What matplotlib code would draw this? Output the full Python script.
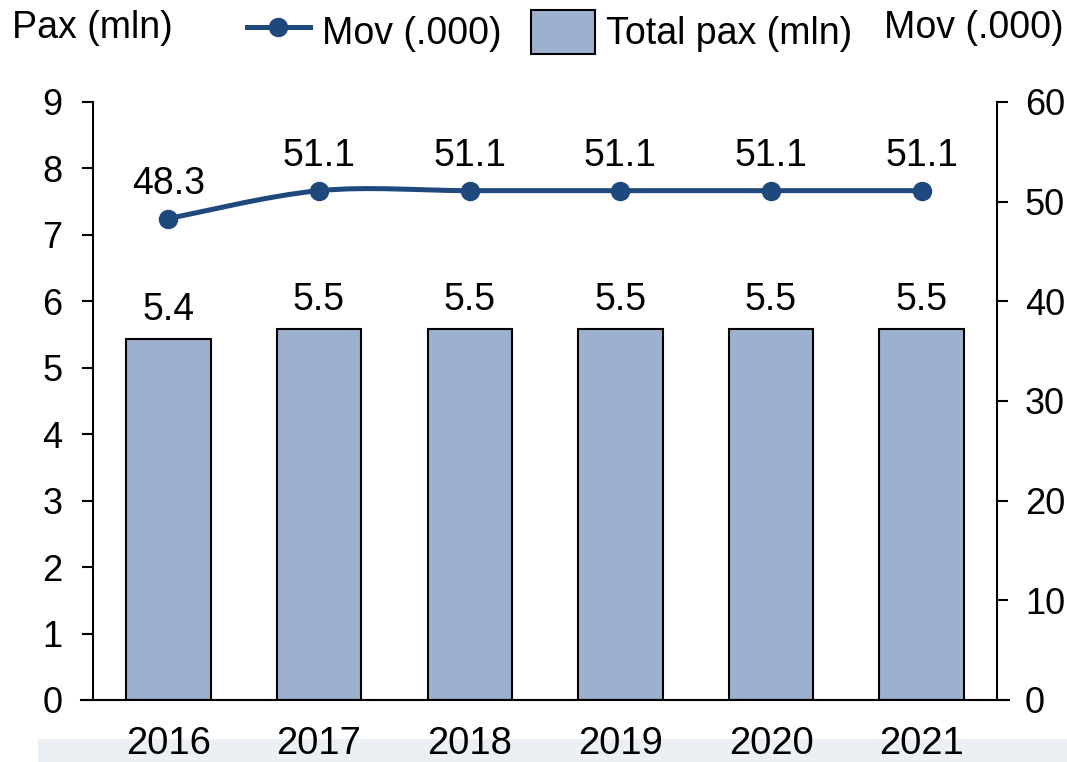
"""
Pax and movements chart, bars for passengers with a smoothed movements line
"""

import matplotlib
matplotlib.use('Agg')
import matplotlib.pyplot as plt
from matplotlib.path import Path
from matplotlib.patches import PathPatch, Rectangle
from matplotlib.lines import Line2D

years = ['2016', '2017', '2018', '2019', '2020', '2021']
pax = [5.43, 5.58, 5.58, 5.58, 5.58, 5.58]
pax_labels = ['5.4', '5.5', '5.5', '5.5', '5.5', '5.5']
mov = [48.3, 51.1, 51.1, 51.1, 51.1, 51.1]

barColor = '#9DB0CD'
lineColor = '#1F497D'

plt.rcParams['font.family'] = ['Liberation Sans', 'DejaVu Sans']
fs = 26
fsLab = 27

fig = plt.figure(figsize=(10.67, 7.62), dpi=100)
ax = fig.add_axes([0.0872, 0.0814, 0.8472, 0.7848])
ax2 = ax.twinx()

# bottom band behind the year labels
fig.patches.append(Rectangle((0.0356, 0), 1 - 0.0356, 0.030,
                             transform=fig.transFigure, color='#ECF0F4',
                             zorder=-5))

x = list(range(len(years)))
ax.bar(x, pax, width=0.56, color=barColor, edgecolor='black', linewidth=1.5,
       zorder=2)
for i in x:
    ax.annotate(pax_labels[i], (i, pax[i]), xytext=(0, 8),
                textcoords='offset points', ha='center', va='bottom',
                fontsize=fsLab)

ax.set_xlim(-0.5, len(years) - 0.5)
ax.set_ylim(0, 9)
ax.set_yticks(range(0, 10))
ax.set_xticks(x)
ax.set_xticklabels(years)
ax2.set_ylim(0, 60)
ax2.set_yticks(range(0, 70, 10))

# smoothed line like excel (bezier through points)
pts = list(zip(x, mov))
verts = [pts[0]]
codes = [Path.MOVETO]
for i in range(len(pts) - 1):
    p0 = pts[i - 1] if i > 0 else pts[i]
    p1 = pts[i]
    p2 = pts[i + 1]
    p3 = pts[i + 2] if i + 2 < len(pts) else pts[i + 1]
    c1 = (p1[0] + (p2[0] - p0[0]) / 6, p1[1] + (p2[1] - p0[1]) / 6)
    c2 = (p2[0] - (p3[0] - p1[0]) / 6, p2[1] - (p3[1] - p1[1]) / 6)
    verts += [c1, c2, p2]
    codes += [Path.CURVE4] * 3
ax2.add_patch(PathPatch(Path(verts, codes), facecolor='none',
                        edgecolor=lineColor, linewidth=3.6, zorder=3))
ax2.plot(x, mov, linestyle='none', marker='o', markersize=13,
         color=lineColor, zorder=4)
for i in x:
    ax2.annotate('%.1f' % mov[i], (i, mov[i]), xytext=(0, 12),
                 textcoords='offset points', ha='center', va='bottom',
                 fontsize=fsLab)

# spines and ticks
for a in (ax, ax2):
    a.spines['top'].set_visible(False)
    for s in a.spines.values():
        s.set_linewidth(1.5)
ax.spines['right'].set_visible(False)
ax.spines['bottom'].set_bounds(-0.58, 5.58)
ax2.spines['left'].set_visible(False)
ax2.spines['bottom'].set_visible(False)
ax.tick_params(axis='y', direction='out', length=8, width=1.5, pad=14,
               labelsize=fs)
ax.tick_params(axis='x', length=0, pad=19, labelsize=27.5)
ax2.tick_params(axis='y', direction='out', length=8, width=1.5, pad=12,
                labelsize=fs)

# axis titles and legend
fig.text(12 / 1067, 1 - 28 / 762, 'Pax (mln)', fontsize=fsLab, ha='left',
         va='center')
fig.text(1 - 3 / 1067, 1 - 28 / 762, 'Mov (.000)', fontsize=fsLab,
         ha='right', va='center')
handles = [Line2D([], [], color=lineColor, linewidth=3.6, marker='o',
                  markersize=13),
           Rectangle((0, 0), 1, 1, facecolor=barColor, edgecolor='black',
                     linewidth=1.5)]
fig.legend(handles, ['Mov (.000)', 'Total pax (mln)'], loc='center',
           bbox_to_anchor=(0.515, 1 - 32 / 762), ncol=2, frameon=False,
           fontsize=fsLab, handlelength=1.7, handleheight=1.4,
           handletextpad=0.3, columnspacing=0.8, borderpad=0)

fig.savefig('out.png', dpi=100)
